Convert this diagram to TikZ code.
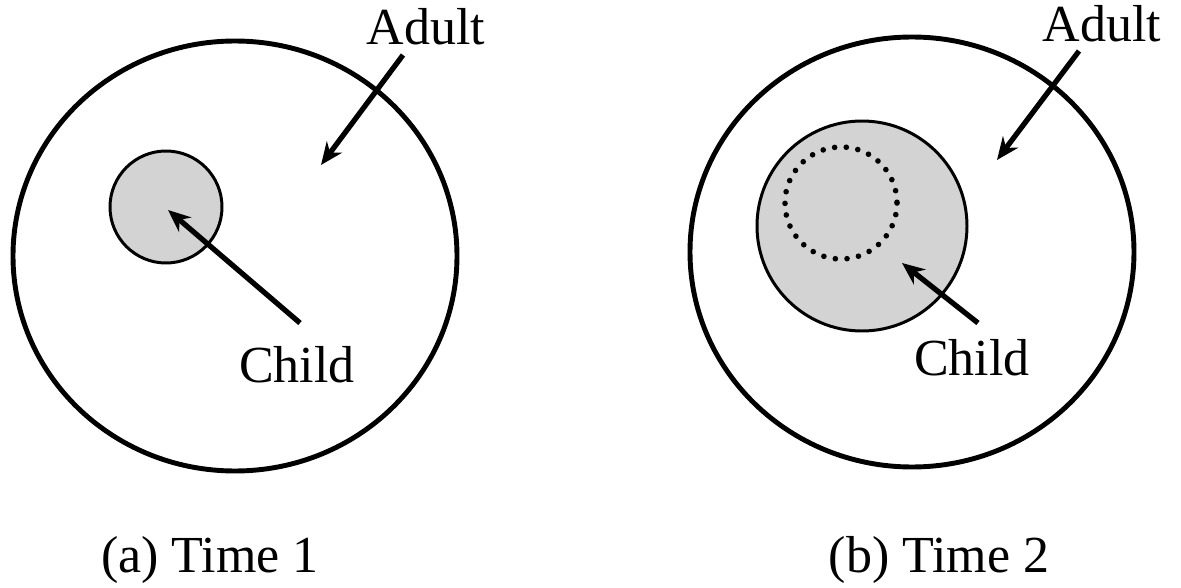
\documentclass[tikz,border=0pt]{standalone}
\usepackage{fontspec}
\setmainfont{Liberation Serif}
\usetikzlibrary{arrows.meta}
\definecolor{childgray}{RGB}{211,211,211}
\tikzset{
  outer/.style={line width=2.8pt},
  inner/.style={line width=1.7pt, fill=childgray},
  pointer/.style={line width=3pt, -{Stealth[length=0.45cm,width=0.38cm]}},
  dots/.style={line width=3.2pt, line cap=round, dash pattern=on 0pt off 6.66pt},
  label/.style={anchor=base, inner sep=0pt, font=\fontsize{29.6}{34}\selectfont}
}
\begin{document}
\begin{tikzpicture}[x=0.02cm,y=-0.02cm]
\useasboundingbox (0,0) rectangle (1181,588);
% (a) Time 1
\draw [outer] (235,256) ellipse (222 and 215);
\draw [inner] (166,207) circle (56);
\node [label] (adultA) at (426,45) {Adult};
\node [label] (childA) at (297,382) {Child};
\node [label] (timeA) at (210,572) {(a) Time 1};
\coordinate (adultAtail) at (403,55);
\coordinate (adultAtip) at (321,165);
\coordinate (childAtail) at (300,323);
\coordinate (childAtip) at (168,210);
\draw [pointer] (adultAtail) -- (adultAtip);
\draw [pointer] (childAtail) -- (childAtip);
% (b) Time 2
\draw [outer] (912,252) ellipse (222 and 215);
\draw [inner] (862,226) circle (105);
\draw [dots] (841,203) circle (56);
\node [label] (adultB) at (1102,42) {Adult};
\node [label] (childB) at (972,375) {Child};
\node [label] (timeB) at (939,572) {(b) Time 2};
\coordinate (adultBtail) at (1079,51);
\coordinate (adultBtip) at (997,160);
\coordinate (childBtail) at (978,323);
\coordinate (childBtip) at (902,263);
\draw [pointer] (adultBtail) -- (adultBtip);
\draw [pointer] (childBtail) -- (childBtip);
\end{tikzpicture}
\end{document}
